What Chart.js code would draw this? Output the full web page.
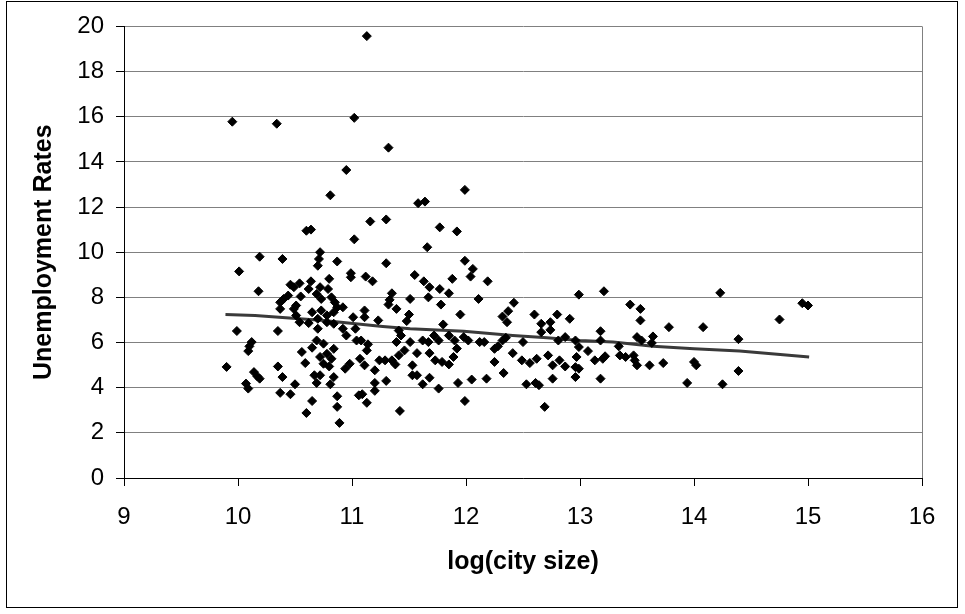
<!DOCTYPE html>
<html>
<head>
<meta charset="utf-8">
<script src="https://cdn.jsdelivr.net/npm/chart.js@4/dist/chart.umd.min.js"></script>
<style>
  html, body { margin: 0; padding: 0; background: #fff; }
  #wrap { width: 965px; height: 614px; position: relative; }
</style>
</head>
<body>
<div id="wrap"><canvas id="chart" width="965" height="614"></canvas></div>
<script>
// log(city size) / unemployment rate
const cityLogSize = [
  11.13, 9.95, 10.34, 11.02, 11.32, 10.95, 10.81, 11.58, 11.64, 11.16, 11.30, 10.60, 10.64, 11.02, 11.66, 11.77, 11.99, 11.92, 11.99, 10.72,
  10.19, 10.39, 10.71, 10.70, 10.87, 10.01, 10.18, 10.49, 10.54, 10.64, 10.62, 10.80, 10.72, 10.79, 10.44, 10.55, 10.37, 10.40, 10.73, 10.85,
  10.87, 10.37, 10.49, 10.65, 10.73, 10.51, 10.54, 10.62, 10.78, 10.70, 10.84, 9.99, 10.35, 10.70, 10.12, 10.10, 10.09, 10.69, 10.65, 10.75,
  10.84, 10.56, 10.59, 10.72, 10.78, 10.82, 10.75, 10.80, 9.90, 10.14, 10.17, 10.19, 10.07, 10.09, 10.35, 10.39, 10.50, 10.67, 10.72, 10.69,
  10.81, 10.84, 10.37, 10.46, 10.65, 10.60, 10.87, 10.87, 10.89, 10.46, 10.69, 10.82, 10.51, 10.84, 10.78,
  11.30, 12.06, 12.04, 12.19, 10.99, 10.99, 11.12, 11.18, 11.55, 11.63, 11.68, 11.77, 11.88, 11.85, 11.35, 11.33, 11.32, 11.39, 11.51, 11.67,
  11.78, 12.11, 10.92, 11.11, 11.11, 11.01, 11.23, 11.50, 11.48, 11.95, 10.92, 10.95, 11.03, 11.04, 11.08, 11.14, 11.41, 11.43, 11.39, 11.46,
  11.51, 11.57, 11.62, 11.67, 11.72, 11.76, 11.80, 11.85, 11.90, 11.92, 11.98, 12.02, 12.16, 11.68, 10.94, 10.98, 11.07, 11.11, 11.13, 11.20,
  11.24, 11.29, 11.35, 11.38, 11.41, 11.53, 11.53, 11.57, 11.62, 11.68, 11.76, 11.73, 11.79, 11.85, 11.89, 11.93, 12.05, 12.18, 11.99, 11.30,
  11.20, 11.20, 11.06, 11.09, 11.13, 11.42,
  12.99, 13.21, 14.23, 12.42, 12.37, 12.32, 12.36, 12.60, 12.80, 12.66, 12.74, 12.91, 12.74, 12.66, 13.44, 13.53, 13.53, 13.78, 14.08, 12.12,
  12.25, 12.28, 12.32, 12.35, 12.50, 12.41, 12.25, 12.33, 12.49, 12.56, 12.62, 12.53, 12.61, 12.64, 12.69, 12.72, 12.76, 12.76, 12.82, 12.87,
  12.81, 12.87, 12.96, 12.99, 12.97, 12.96, 12.99, 12.96, 13.07, 13.13, 13.18, 13.18, 13.20, 13.22, 13.18, 13.34, 13.35, 13.40, 13.47, 13.48,
  13.50, 13.50, 13.54, 13.64, 13.63, 13.61, 13.73, 13.94, 14.00, 14.02, 14.25,
  14.75, 14.95, 15.00, 14.39, 14.39
];
const unemploymentRate = [
  19.57, 15.78, 15.69, 15.95, 14.63, 13.64, 12.52, 12.17, 12.24, 11.36, 11.45, 10.95, 11.00, 10.57, 10.22, 11.10, 12.76, 10.92, 9.62, 10.00,
  9.80, 9.70, 9.70, 9.40, 9.59, 9.15, 8.27, 8.45, 8.62, 8.71, 8.37, 8.82, 8.45, 8.37, 8.08, 8.04, 7.78, 7.93, 7.93, 7.78,
  7.56, 7.49, 7.49, 7.34, 7.42, 7.20, 6.90, 6.86, 6.90, 7.05, 6.83, 6.51, 6.51, 6.61, 6.02, 5.83, 5.62, 6.09, 5.77, 5.95,
  5.72, 5.58, 5.09, 5.36, 5.50, 5.28, 5.06, 4.94, 4.92, 4.69, 4.50, 4.40, 4.18, 3.96, 4.94, 4.47, 4.15, 4.55, 4.55, 4.21,
  4.15, 4.47, 3.77, 3.71, 3.41, 2.88, 3.62, 3.15, 2.44, 8.56, 8.15, 8.00, 7.64, 7.34, 7.20,
  9.51, 9.26, 8.92, 8.71, 9.07, 8.89, 8.92, 8.71, 8.99, 8.71, 8.45, 8.37, 8.82, 8.18, 8.18, 7.89, 7.68, 7.49, 7.93, 8.00,
  7.68, 7.93, 7.56, 7.42, 7.12, 7.12, 6.98, 7.24, 6.95, 7.24, 6.61, 6.31, 6.61, 6.09, 6.09, 5.92, 6.53, 6.31, 6.02, 5.65,
  6.02, 5.53, 6.09, 6.02, 6.31, 6.09, 6.80, 6.31, 6.09, 5.73, 6.24, 6.09, 6.02, 5.53, 4.84, 5.06, 5.28, 4.99, 5.65, 4.77,
  5.21, 5.21, 5.21, 5.03, 5.43, 4.99, 4.55, 4.55, 4.15, 4.44, 3.96, 5.21, 5.14, 5.03, 5.36, 4.21, 4.36, 4.40, 3.41, 4.30,
  4.21, 3.86, 3.66, 3.71, 3.33, 2.97,
  8.12, 8.27, 8.20, 7.76, 7.39, 7.15, 6.90, 7.24, 7.24, 6.83, 6.90, 7.05, 6.56, 6.46, 7.68, 7.49, 6.98, 6.68, 6.68, 6.02,
  5.72, 5.83, 6.09, 6.21, 6.02, 5.53, 5.14, 4.65, 5.21, 5.09, 5.28, 4.15, 4.21, 4.11, 3.15, 5.43, 4.99, 4.40, 5.21, 4.94,
  6.09, 6.24, 6.09, 5.80, 5.36, 4.91, 4.84, 4.47, 5.62, 5.21, 6.09, 6.50, 5.28, 5.39, 4.40, 5.83, 5.43, 5.36, 5.43, 5.21,
  4.99, 6.24, 6.09, 6.27, 5.98, 4.99, 5.09, 4.21, 5.14, 4.99, 4.15,
  7.02, 7.74, 7.64, 6.15, 4.74
];

// fitted line
const trendLogSize = [9.89, 10.15, 10.75, 11.27, 11.51, 11.98, 12.41, 12.71, 13.0, 13.29, 13.64, 14.0, 14.4, 15.01];
const trendRate = [7.24, 7.2, 6.98, 6.71, 6.61, 6.5, 6.31, 6.21, 6.09, 6.02, 5.83, 5.72, 5.62, 5.36];

const xMin = 9, xMax = 16, xStep = 1;
const yMin = 0, yMax = 20, yStep = 2;

const points = cityLogSize.map((x, i) => ({ x, y: unemploymentRate[i] }));
const trend = trendLogSize.map((x, i) => ({ x, y: trendRate[i] }));

const FONT = "'Liberation Sans', Arial, sans-serif";

// white page, outer frame, right border of plot area
const framePlugin = {
  id: 'frame',
  beforeDraw(chart) {
    const ctx = chart.ctx;
    ctx.save();
    ctx.fillStyle = '#fff';
    ctx.fillRect(0, 0, chart.width, chart.height);
    ctx.restore();
  },
  afterDraw(chart) {
    const { ctx, chartArea } = chart;
    ctx.save();
    ctx.strokeStyle = '#808080';
    ctx.lineWidth = 1;
    ctx.beginPath();
    ctx.moveTo(Math.round(chartArea.right) + 0.5, chartArea.top);
    ctx.lineTo(Math.round(chartArea.right) + 0.5, chartArea.bottom);
    ctx.stroke();
    ctx.strokeStyle = '#000';
    ctx.strokeRect(6.5, 1.5, chart.width - 14, chart.height - 8);
    ctx.restore();
  }
};

new Chart(document.getElementById('chart'), {
  type: 'scatter',
  data: {
    datasets: [
      {
        label: 'Fit',
        data: trend,
        showLine: true,
        borderColor: '#3a3a3a',
        borderWidth: 3,
        pointRadius: 0,
        tension: 0,
        order: 2,
      },
      {
        label: 'Cities',
        data: points,
        pointStyle: 'rectRot',
        pointRadius: 4.5,
        backgroundColor: '#000',
        borderColor: '#000',
        borderWidth: 1,
        order: 1,
      },
    ],
  },
  plugins: [framePlugin],
  options: {
    responsive: false,
    animation: false,
    layout: { padding: { top: 25, right: 43, left: 0, bottom: 0 } },
    plugins: {
      legend: { display: false },
      tooltip: { enabled: false },
    },
    scales: {
      x: {
        type: 'linear',
        min: xMin,
        max: xMax,
        ticks: { stepSize: xStep, color: '#000', padding: 17, font: { family: FONT, size: 24 } },
        grid: { drawOnChartArea: false, tickLength: 8, tickColor: '#000' },
        border: { color: '#000', width: 1 },
        title: {
          display: true,
          text: 'log(city size)',
          color: '#000',
          font: { family: FONT, size: 25, weight: 'bold' },
          padding: { top: 0, bottom: 37 },
        },
        afterFit: (s) => { s.height = 136; },
      },
      y: {
        min: yMin,
        max: yMax,
        ticks: { stepSize: yStep, color: '#000', padding: 12, font: { family: FONT, size: 24 } },
        grid: { color: '#808080', tickLength: 8, tickColor: '#000' },
        border: { color: '#000', width: 1 },
        title: {
          display: true,
          text: 'Unemployment Rates',
          color: '#000',
          font: { family: FONT, size: 25, weight: 'bold' },
          padding: { top: 29, bottom: 0 },
        },
        afterFit: (s) => { s.width = 124; },
      },
    },
  },
});
</script>
</body>
</html>
